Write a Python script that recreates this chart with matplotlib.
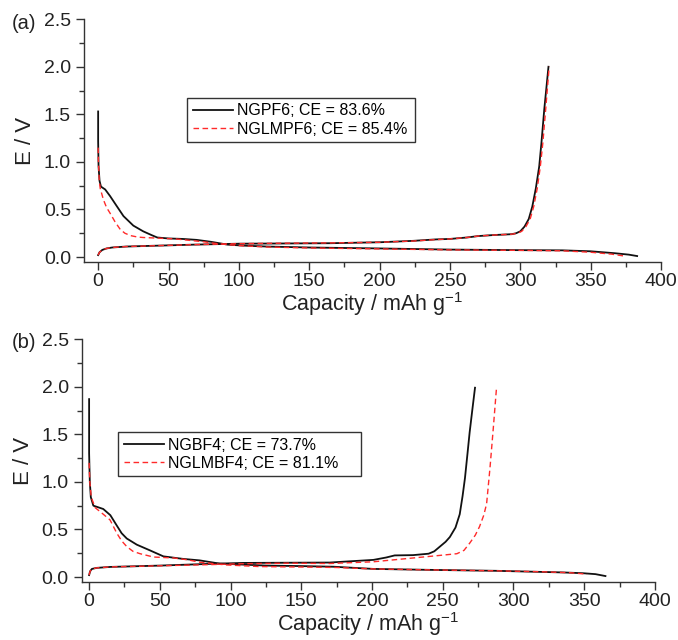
import matplotlib
matplotlib.use("Agg")
import matplotlib.pyplot as plt
from matplotlib.ticker import MultipleLocator

plt.rcParams["font.family"] = ["Liberation Sans", "DejaVu Sans"]
plt.rcParams["mathtext.fontset"] = "custom"
plt.rcParams["mathtext.rm"] = "Liberation Sans"
plt.rcParams["mathtext.default"] = "regular"

# PANEL (a) DATA - NGPF6 / NGLMPF6
a_ng_dis_cap = [0, 0, 0.3, 1, 2, 5, 8.5, 13, 18, 25, 32, 38, 42, 50, 60, 70, 80, 92, 103, 120, 150, 200, 250, 300, 330, 350, 367, 377, 383]
a_ng_dis_e = [1.53, 1.22, 0.95, 0.8, 0.74, 0.71, 0.64, 0.54, 0.43, 0.33, 0.27, 0.23, 0.205, 0.195, 0.19, 0.18, 0.16, 0.13, 0.12, 0.11, 0.10, 0.09, 0.078, 0.072, 0.07, 0.06, 0.04, 0.025, 0.01]
a_ng_chg_cap = [0, 1, 3, 6, 10, 20, 44, 68, 100, 130, 165, 200, 224, 240, 250, 262, 270, 280, 294, 297, 300, 303, 306, 308.5, 311, 313.4, 315, 317, 320]
a_ng_chg_e = [0.02, 0.05, 0.075, 0.09, 0.1, 0.11, 0.12, 0.13, 0.14, 0.142, 0.145, 0.155, 0.17, 0.185, 0.19, 0.205, 0.22, 0.23, 0.24, 0.25, 0.27, 0.32, 0.4, 0.53, 0.72, 0.95, 1.2, 1.55, 2.0]
a_lm_dis_cap = [0, 0.2, 0.8, 1.5, 3.8, 6, 8.5, 12, 15.7, 19, 23, 28, 32, 40, 55, 65, 75, 85, 100, 120, 150, 200, 250, 300, 330, 350, 365, 374]
a_lm_dis_e = [1.15, 1.0, 0.8, 0.72, 0.6, 0.52, 0.46, 0.37, 0.29, 0.25, 0.225, 0.21, 0.205, 0.2, 0.19, 0.175, 0.16, 0.14, 0.12, 0.105, 0.095, 0.085, 0.075, 0.07, 0.065, 0.05, 0.03, 0.01]
a_lm_chg_cap = [0, 1, 3, 6, 10, 20, 44, 68, 100, 130, 165, 200, 224, 240, 250, 262, 270, 280, 294, 298, 301, 304, 307, 309.5, 312, 314.2, 316, 318, 320.5]
a_lm_chg_e = [0.02, 0.05, 0.075, 0.09, 0.1, 0.11, 0.12, 0.13, 0.14, 0.145, 0.148, 0.155, 0.168, 0.183, 0.19, 0.205, 0.22, 0.23, 0.24, 0.25, 0.27, 0.32, 0.4, 0.53, 0.72, 0.95, 1.2, 1.55, 2.0]

# PANEL (b) DATA - NGBF4 / NGLMBF4
b_ng_dis_cap = [0, 0, 0.5, 1.2, 3, 10, 15, 19.6, 23, 26.6, 33.7, 43, 52.5, 66.6, 78, 92.6, 102, 125, 149, 173, 201, 241, 288, 335, 349, 358, 365]
b_ng_dis_e = [1.87, 1.3, 1.0, 0.84, 0.75, 0.715, 0.65, 0.54, 0.46, 0.405, 0.34, 0.28, 0.217, 0.19, 0.175, 0.14, 0.135, 0.12, 0.115, 0.108, 0.085, 0.075, 0.065, 0.048, 0.04, 0.03, 0.01]
b_ng_chg_cap = [0, 0.7, 2, 5.4, 15, 50, 85, 109, 140, 170, 201, 210, 216, 229, 240, 244, 248, 252, 255, 259, 262, 264, 265.7, 267.5, 269, 271, 272.8]
b_ng_chg_e = [0.02, 0.06, 0.085, 0.096, 0.106, 0.12, 0.138, 0.148, 0.15, 0.152, 0.18, 0.205, 0.227, 0.23, 0.245, 0.27, 0.32, 0.37, 0.42, 0.52, 0.66, 0.85, 1.04, 1.3, 1.52, 1.77, 1.99]
b_lm_dis_cap = [0, 0.5, 1.5, 4.2, 10, 14.8, 19.6, 23, 26.6, 31, 36, 45.5, 60, 70, 78.4, 97, 120, 150, 175, 201, 241, 288, 320, 340, 352]
b_lm_dis_e = [1.2, 1.0, 0.84, 0.73, 0.66, 0.6, 0.46, 0.38, 0.32, 0.27, 0.245, 0.21, 0.2, 0.18, 0.155, 0.127, 0.11, 0.105, 0.1, 0.085, 0.075, 0.065, 0.055, 0.045, 0.03]
b_lm_chg_cap = [0, 0.7, 2, 5.4, 15, 50, 85, 109, 140, 170, 201, 229, 250, 260, 265, 269, 273, 276, 279, 281, 283.4, 285.7, 288]
b_lm_chg_e = [0.02, 0.06, 0.085, 0.096, 0.106, 0.118, 0.13, 0.14, 0.145, 0.142, 0.16, 0.2, 0.23, 0.245, 0.28, 0.355, 0.44, 0.53, 0.65, 0.77, 1.15, 1.56, 1.99]

labels_a = ["NGPF6; CE = 83.6%", "NGLMPF6; CE = 85.4%"]
labels_b = ["NGBF4; CE = 73.7%", "NGLMBF4; CE = 81.1%"]

BLACK = "#111111"
RED = "#ff2a2a"
DASH = (0, (4, 2.5))


def style_axes(ax, xmin):
    ax.set_xlim(xmin, 400)
    ax.set_ylim(-0.05, 2.5)
    ax.xaxis.set_major_locator(MultipleLocator(50))
    ax.xaxis.set_minor_locator(MultipleLocator(25))
    ax.yaxis.set_major_locator(MultipleLocator(0.5))
    ax.yaxis.set_minor_locator(MultipleLocator(0.25))
    ax.yaxis.set_major_formatter(plt.FormatStrFormatter("%.1f"))
    for s in ["top", "right"]:
        ax.spines[s].set_visible(False)
    for s in ["left", "bottom"]:
        ax.spines[s].set_color("#333333")
        ax.spines[s].set_linewidth(1.0)
    ax.tick_params(which="major", direction="out", length=6, width=1, colors="#333333",
                   labelsize=14, labelcolor="#222222")
    ax.tick_params(axis="x", which="major", pad=2)
    ax.tick_params(which="minor", direction="out", length=3.5, width=1, colors="#333333")
    ax.set_xlabel("Capacity / mAh g$^{-1}$", fontsize=15.5, color="#222222", labelpad=0)
    ax.set_ylabel("E / V", fontsize=16, color="#222222")
    ax.yaxis.set_label_coords(-0.083, 0.5)


def add_legend(ax, x0, top, width):
    ax.legend(loc="upper left", bbox_to_anchor=(x0, 0.0, width, top), mode="expand",
              borderaxespad=0, fontsize=11.5, frameon=True, fancybox=False,
              edgecolor="#333333", framealpha=1, handlelength=2.5, handletextpad=0.3,
              borderpad=0.35, labelspacing=0.2)


fig = plt.figure(figsize=(6.78, 6.40), dpi=100)
ax1 = fig.add_axes([0.124, 0.591, 0.851, 0.379])
ax2 = fig.add_axes([0.121, 0.091, 0.845, 0.379])

ax1.plot(a_ng_dis_cap, a_ng_dis_e, color=BLACK, lw=1.3, label=labels_a[0])
ax1.plot(a_ng_chg_cap, a_ng_chg_e, color=BLACK, lw=1.3)
ax1.plot(a_lm_dis_cap, a_lm_dis_e, color=RED, lw=1.0, ls=DASH, label=labels_a[1])
ax1.plot(a_lm_chg_cap, a_lm_chg_e, color=RED, lw=1.0, ls=DASH)
style_axes(ax1, -10)
add_legend(ax1, 0.1785, 0.676, 0.395)

ax2.plot(b_ng_dis_cap, b_ng_dis_e, color=BLACK, lw=1.3, label=labels_b[0])
ax2.plot(b_ng_chg_cap, b_ng_chg_e, color=BLACK, lw=1.3)
ax2.plot(b_lm_dis_cap, b_lm_dis_e, color=RED, lw=1.0, ls=DASH, label=labels_b[1])
ax2.plot(b_lm_chg_cap, b_lm_chg_e, color=RED, lw=1.0, ls=DASH)
style_axes(ax2, -5)
add_legend(ax2, 0.063, 0.617, 0.424)

fig.text(0.018, 0.964, "(a)", fontsize=14.5, va="center", color="#222222")
fig.text(0.018, 0.465, "(b)", fontsize=14.5, va="center", color="#222222")

fig.savefig("out.png", dpi=100)
